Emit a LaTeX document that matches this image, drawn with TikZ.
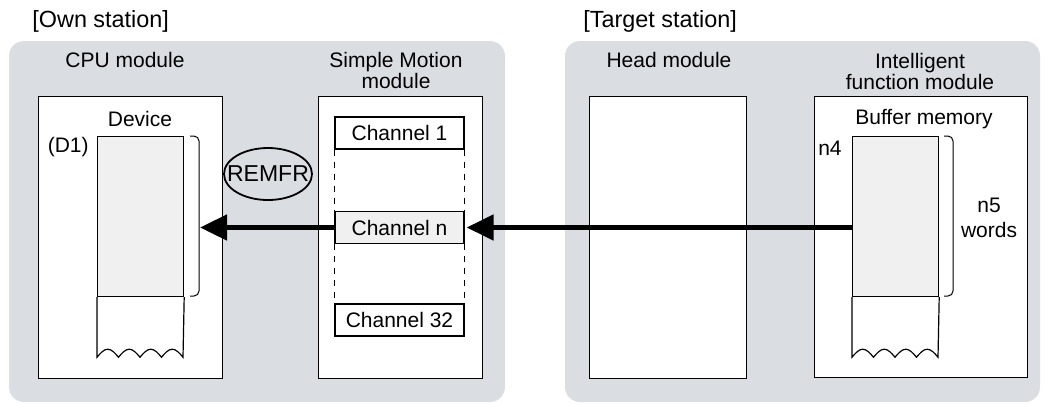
\documentclass[tikz,border=0pt]{standalone}
\usepackage{fontspec}
\setmainfont{Liberation Sans}
\usetikzlibrary{arrows.meta}
\definecolor{stationbg}{RGB}{218,221,226}
\definecolor{memfill}{gray}{0.94}

% torn-off end below a memory column
\newcommand{\memtail}[1]{%
  \draw[line width=0.6pt] (#1.south west) -- ++(0,60)
    \foreach \k in {1,...,4} { sin ++(10.75,-8) cos ++(10.75,8) }
    -- (#1.south east);}

\begin{document}
\begin{tikzpicture}[x=0.5pt,y=-0.5pt,
    lbl/.style={inner sep=0pt, align=center, font=\fontsize{10.5}{10.5}\selectfont},
    ttl/.style={inner sep=0pt, anchor=west, font=\fontsize{11.7}{12}\selectfont},
    modbox/.style={draw, fill=white, line width=0.6pt, anchor=north west, inner sep=0pt, minimum height=141pt},
    chbox/.style={draw, fill=white, line width=0.6pt, inner sep=0pt, minimum width=64.5pt, minimum height=16pt, font=\fontsize{10.5}{10.5}\selectfont},
    memcol/.style={draw, fill=memfill, line width=0.6pt, anchor=north west, inner sep=0pt, minimum width=43pt, minimum height=80pt},
    chgap/.style={line width=0.6pt, dash pattern=on 3pt off 3pt},
    wordbrace/.style={line width=0.5pt, rounded corners=2.5pt},
    flow/.style={line width=2.4pt, -{Triangle[length=13.5pt,width=12.5pt]}}]

  \useasboundingbox (0,0) rectangle (1049,403);

  % stations
  \fill[stationbg, rounded corners=7.5pt] (9,41) rectangle (505,402);
  \fill[stationbg, rounded corners=7.5pt] (565,41) rectangle (1040,402);
  \node[ttl] (own) at (32,21) {[Own station]};
  \node[ttl] (target) at (583,21) {[Target station]};

  % modules
  \node[modbox, minimum width=92pt] (cpu) at (38,96) {};
  \node[modbox, minimum width=82pt] (sm) at (318,96) {};
  \node[modbox, minimum width=78.5pt] (head) at (589,96) {};
  \node[modbox, minimum width=106.5pt, minimum height=140.5pt] (ifm) at (814,96) {};

  \node[lbl] (cpulbl) at (125,60) {CPU module};
  \node[lbl] (smlbl) at (396,70) {Simple Motion\\module};
  \node[lbl] (headlbl) at (669,60) {Head module};
  \node[lbl] (ifmlbl) at (920,71) {Intelligent\\function module};

  % device of the CPU module
  \node[lbl] (devlbl) at (140,119) {Device};
  \node[memcol] (dev) at (97,136) {};
  \node[lbl, anchor=east] (d1) at (89,147) {(D1)};
  \memtail{dev}
  \draw[wordbrace] (190,136) -- (199,136) -- (199,296) -- (190,296);

  \node[lbl, font=\fontsize{11.5}{11.5}\selectfont] (remfr) at (268,174) {REMFR};
  \draw[line width=0.9pt] (remfr) ellipse [x radius=22pt, y radius=13pt];

  % channels
  \node[chbox] (ch1) at (399.5,133) {Channel 1};
  \node[chbox, fill=memfill] (chn) at (399.5,227.5) {Channel n};
  \node[chbox] (ch32) at (399.5,320) {Channel 32};
  \foreach \a/\b in {ch1/chn, chn/ch32} {
    \draw[chgap] (\a.south west) -- (\b.north west);
    \draw[chgap] (\a.south east) -- (\b.north east);
  }

  % buffer memory of the intelligent function module
  \node[lbl] (buflbl) at (924,119) {Buffer memory};
  \node[memcol] (buf) at (852,136) {};
  \node[lbl, anchor=east] (n4) at (842,148) {n4};
  \memtail{buf}
  \draw[wordbrace] (944,136) -- (953,136) -- (953,296) -- (944,296);
  \node[lbl, font=\fontsize{10.5}{12.5}\selectfont] (n5) at (989,218) {n5\\words};

  % data flow
  \coordinate (devin) at (200,227.5);
  \coordinate (bufout) at (853,227.5);
  \draw[flow] (chn.west) -- (devin);
  \draw[flow] (bufout) -- ([xshift=1pt]chn.east);
\end{tikzpicture}
\end{document}
